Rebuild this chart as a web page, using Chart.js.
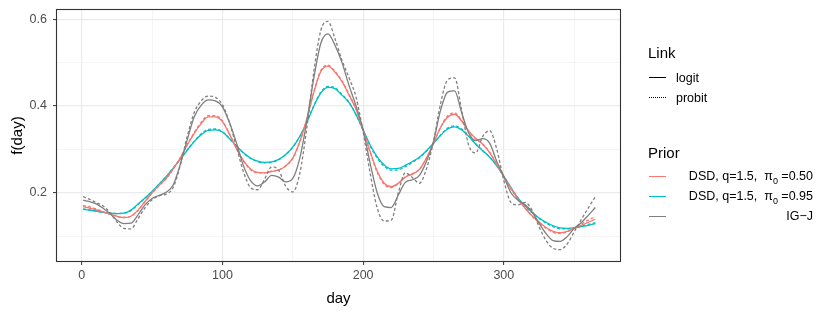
<!DOCTYPE html>
<html>
<head>
<meta charset="utf-8">
<script src="https://cdn.jsdelivr.net/npm/chart.js@4"></script>
<style>
  html, body { margin:0; padding:0; background:#fff; }
  #wrap { position:relative; width:830px; height:312px; font-family:"Liberation Sans", Arial, sans-serif; }
  canvas { position:absolute; left:0; top:0; }
  .lg { position:absolute; white-space:nowrap; color:#000; }
  .ttl { font-size:15px; line-height:15px; }
  .itm { font-size:12.5px; line-height:12.5px; }
  .key { position:absolute; height:0; width:17px; }
</style>
</head>
<body>
<div id="wrap">
  <canvas id="c" width="830" height="312"></canvas>
  <div class="lg ttl" style="left:648px; top:45px;">Link</div>
  <div class="key" style="left:649px; top:77px; border-top:1.3px solid #000;"></div>
  <div class="lg itm" style="left:676px; top:72px;">logit</div>
  <div class="key" style="left:649px; top:97px; border-top:1.3px dotted #000;"></div>
  <div class="lg itm" style="left:676px; top:92px;">probit</div>
  <div class="lg ttl" style="left:648px; top:145px;">Prior</div>
  <div class="key" style="left:649px; top:176px; border-top:1.3px solid #F8766D;"></div>
  <div class="lg itm" style="right:17px; top:170px; text-align:right;">DSD, q=1.5,&nbsp; π<sub style="font-size:9px; line-height:0;">0</sub> =0.50</div>
  <div class="key" style="left:649px; top:196px; border-top:1.3px solid #00BFC4;"></div>
  <div class="lg itm" style="right:17px; top:190px; text-align:right;">DSD, q=1.5,&nbsp; π<sub style="font-size:9px; line-height:0;">0</sub> =0.95</div>
  <div class="key" style="left:649px; top:216px; border-top:1.3px solid #7F7F7F;"></div>
  <div class="lg itm" style="right:17px; top:210px; text-align:right;">IG−J</div>
</div>
<script>
const days = [1,5,10,15,20,25,30,35,40,45,50,55,60,65,70,75,80,85,90,95,100,105,110,115,120,125,130,135,140,145,150,155,160,165,170,175,180,185,190,195,200,205,210,215,220,225,230,235,240,245,250,255,260,265,270,275,280,285,290,295,300,305,310,315,320,325,330,335,340,345,350,355,360,365];

const dsd050Logit = [0.168,0.165,0.161,0.156,0.151,0.146,0.143,0.146,0.160,0.180,0.200,0.217,0.233,0.255,0.280,0.310,0.337,0.360,0.375,0.375,0.364,0.335,0.302,0.274,0.255,0.247,0.246,0.249,0.252,0.262,0.280,0.318,0.370,0.432,0.480,0.492,0.478,0.456,0.425,0.392,0.345,0.295,0.250,0.222,0.214,0.222,0.236,0.243,0.254,0.280,0.314,0.350,0.374,0.381,0.365,0.342,0.325,0.312,0.292,0.265,0.237,0.210,0.186,0.165,0.147,0.133,0.120,0.111,0.108,0.111,0.118,0.125,0.132,0.139];
const dsd050Probit = [0.171,0.168,0.163,0.157,0.151,0.146,0.143,0.146,0.159,0.179,0.199,0.216,0.232,0.254,0.280,0.311,0.339,0.363,0.378,0.378,0.366,0.336,0.302,0.273,0.253,0.246,0.246,0.250,0.253,0.262,0.279,0.317,0.370,0.433,0.482,0.494,0.480,0.458,0.427,0.393,0.345,0.293,0.247,0.219,0.212,0.221,0.237,0.244,0.254,0.280,0.314,0.351,0.377,0.384,0.367,0.342,0.324,0.312,0.293,0.266,0.237,0.209,0.185,0.165,0.146,0.131,0.118,0.109,0.106,0.110,0.119,0.128,0.137,0.145];
const dsd095Logit = [0.162,0.160,0.158,0.155,0.153,0.152,0.153,0.160,0.174,0.188,0.203,0.220,0.237,0.257,0.277,0.298,0.318,0.334,0.344,0.345,0.340,0.325,0.308,0.292,0.280,0.273,0.270,0.271,0.277,0.288,0.305,0.330,0.362,0.400,0.430,0.443,0.440,0.425,0.408,0.380,0.345,0.310,0.283,0.264,0.255,0.256,0.263,0.272,0.282,0.297,0.314,0.332,0.347,0.352,0.345,0.330,0.312,0.297,0.282,0.262,0.238,0.212,0.188,0.170,0.155,0.142,0.132,0.124,0.119,0.118,0.119,0.122,0.125,0.129];
const dsd095Probit = [0.163,0.161,0.158,0.155,0.153,0.152,0.153,0.159,0.173,0.188,0.203,0.220,0.237,0.257,0.277,0.299,0.319,0.336,0.346,0.347,0.341,0.325,0.307,0.291,0.279,0.272,0.269,0.270,0.276,0.288,0.305,0.330,0.363,0.401,0.432,0.445,0.442,0.426,0.408,0.379,0.344,0.308,0.280,0.261,0.252,0.253,0.260,0.270,0.281,0.296,0.314,0.333,0.349,0.354,0.347,0.331,0.313,0.297,0.282,0.262,0.238,0.212,0.188,0.169,0.154,0.141,0.130,0.122,0.117,0.117,0.119,0.123,0.127,0.131];
const igjLogit = [0.183,0.180,0.175,0.165,0.152,0.137,0.129,0.130,0.149,0.172,0.187,0.194,0.201,0.218,0.265,0.322,0.375,0.402,0.414,0.412,0.398,0.362,0.315,0.262,0.228,0.216,0.225,0.240,0.236,0.225,0.233,0.280,0.365,0.465,0.545,0.566,0.540,0.500,0.447,0.400,0.345,0.268,0.200,0.168,0.166,0.195,0.224,0.230,0.240,0.272,0.318,0.390,0.432,0.435,0.385,0.338,0.320,0.325,0.314,0.272,0.237,0.200,0.183,0.173,0.156,0.130,0.106,0.090,0.088,0.099,0.118,0.131,0.148,0.166];
const igjProbit = [0.191,0.186,0.178,0.170,0.155,0.133,0.118,0.117,0.140,0.165,0.184,0.193,0.197,0.212,0.262,0.330,0.385,0.412,0.423,0.420,0.403,0.362,0.305,0.248,0.212,0.207,0.232,0.260,0.252,0.215,0.202,0.245,0.350,0.480,0.575,0.595,0.555,0.505,0.465,0.420,0.340,0.245,0.165,0.135,0.137,0.200,0.246,0.235,0.222,0.255,0.318,0.405,0.460,0.465,0.390,0.310,0.292,0.330,0.343,0.300,0.228,0.178,0.172,0.178,0.160,0.122,0.090,0.072,0.069,0.082,0.110,0.138,0.165,0.191];

const xTicks = [0,50,100,150,200,250,300,350];
const xLabels = [0,100,200,300];
const yTicks = [0.1,0.2,0.3,0.4,0.5,0.6];
const yLabels = [0.2,0.4,0.6];

const RED = '#F8766D', CYAN = '#00BFC4', GREY = '#7F7F7F';
const DASH = [3,2.2];

function pts(arr){ return days.map((d,i)=>({x:d, y:arr[i]})); }
function ds(label, arr, color, dashed){
  return { label, data: pts(arr), borderColor: color, borderWidth: 1.3,
    borderDash: dashed ? DASH : [], pointRadius: 0, fill: false,
    cubicInterpolationMode: 'monotone' };
}

const frame = {
  id: 'frame',
  afterDraw(chart){
    const a = chart.chartArea, ctx = chart.ctx;
    ctx.save();
    ctx.strokeStyle = '#333333';
    ctx.lineWidth = 1.1;
    ctx.strokeRect(Math.round(a.left)+0.5, Math.round(a.top)+0.5, Math.round(a.right-a.left)-1, Math.round(a.bottom-a.top)-1);
    ctx.restore();
  }
};

const isMajorX = v => xLabels.includes(v);
const isMajorY = v => yLabels.some(t => Math.abs(t - v) < 1e-9);

new Chart(document.getElementById('c'), {
  type: 'line',
  data: { datasets: [
    ds('IG-J logit', igjLogit, GREY, false),
    ds('IG-J probit', igjProbit, GREY, true),
    ds('DSD 0.50 logit', dsd050Logit, RED, false),
    ds('DSD 0.50 probit', dsd050Probit, RED, true),
    ds('DSD 0.95 logit', dsd095Logit, CYAN, false),
    ds('DSD 0.95 probit', dsd095Probit, CYAN, true)
  ]},
  options: {
    responsive: false, animation: false, devicePixelRatio: 1,
    layout: { padding: { left: 0, right: 209, top: 9, bottom: 0 } },
    plugins: { legend: { display: false }, tooltip: { enabled: false } },
    scales: {
      x: {
        type: 'linear', min: -18.25, max: 383.25,
        afterBuildTicks: s => { s.ticks = xTicks.map(v => ({value: v})); },
        afterFit: s => { s.height = 50; s.paddingLeft = 0; s.paddingRight = 0; },
        ticks: { autoSkip: false, maxRotation: 0, padding: 3, color: '#4D4D4D',
          font: { family: '"Liberation Sans", Arial, sans-serif', size: 12.5 },
          callback: v => isMajorX(v) ? String(v) : '' },
        grid: { drawTicks: true, tickLength: 3,
          color: c => isMajorX(c.tick.value) ? '#EBEBEB' : '#F3F3F3',
          lineWidth: c => isMajorX(c.tick.value) ? 1.2 : 0.8,
          tickColor: c => isMajorX(c.tick.value) ? '#333333' : 'rgba(0,0,0,0)',
          tickWidth: 1 },
        border: { display: false },
        title: { display: true, text: 'day', color: '#000',
          font: { family: '"Liberation Sans", Arial, sans-serif', size: 15 }, padding: { top: 2, bottom: 4 } }
      },
      y: {
        type: 'linear', min: 0.0405, max: 0.6235,
        afterBuildTicks: s => { s.ticks = yTicks.map(v => ({value: v})); },
        afterFit: s => { s.width = 56; s.paddingTop = 0; s.paddingBottom = 0; },
        ticks: { autoSkip: false, padding: 6, color: '#4D4D4D',
          font: { family: '"Liberation Sans", Arial, sans-serif', size: 12.5 },
          callback: v => isMajorY(v) ? v.toFixed(1) : '' },
        grid: { drawTicks: true, tickLength: 3,
          color: c => isMajorY(c.tick.value) ? '#EBEBEB' : '#F3F3F3',
          lineWidth: c => isMajorY(c.tick.value) ? 1.2 : 0.8,
          tickColor: c => isMajorY(c.tick.value) ? '#333333' : 'rgba(0,0,0,0)',
          tickWidth: 1 },
        border: { display: false },
        title: { display: true, text: 'f(day)', color: '#000',
          font: { family: '"Liberation Sans", Arial, sans-serif', size: 15 }, padding: { top: 9, bottom: 0 } }
      }
    }
  },
  plugins: [frame]
});
</script>
</body>
</html>
